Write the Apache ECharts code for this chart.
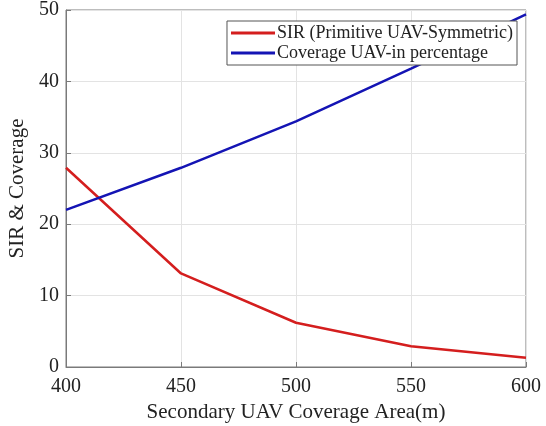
<!DOCTYPE html>
<html>
<head>
<meta charset="utf-8">
<script src="https://cdn.jsdelivr.net/npm/echarts@6/dist/echarts.min.js"></script>
<style>
  html, body { margin: 0; padding: 0; background: #fff; }
  #chart { width: 546px; height: 426px; }
</style>
</head>
<body>
<div id="chart"></div>
<script>
// Secondary UAV coverage area (m)
const areas = [400, 450, 500, 550, 600];
// SIR for the primitive UAV, symmetric case
const sirValues = [27.9, 13.1, 6.2, 2.9, 1.3];
// UAV coverage in percent
const coverageValues = [22, 27.9, 34.4, 41.8, 49.4];
const seriesNames = ['SIR (Primitive UAV-Symmetric)', 'Coverage UAV-in percentage'];

const font = '"Liberation Serif", "Times New Roman", serif';
const pairs = (xs, ys) => xs.map((x, i) => [x, ys[i]]);

const chart = echarts.init(document.getElementById('chart'));
chart.setOption({
  animation: false,
  backgroundColor: '#fff',
  grid: {
    left: 66, right: 20, top: 10, bottom: 59,
    outerBoundsMode: 'none',
    show: true, borderColor: '#7a7a7a', borderWidth: 1
  },
  legend: {
    right: 29, top: 21,
    orient: 'vertical',
    itemGap: 2,
    itemWidth: 44, itemHeight: 3,
    icon: 'rect',
    borderColor: '#555', borderWidth: 1,
    backgroundColor: '#fff',
    padding: [3, 4, 3, 4],
    textStyle: { fontFamily: font, fontSize: 18, color: '#222', padding: [0, 0, 0, -3] },
    data: seriesNames
  },
  xAxis: {
    type: 'value', min: 400, max: 600, interval: 50,
    name: 'Secondary UAV Coverage Area(m)', nameLocation: 'middle', nameGap: 30,
    nameTextStyle: { fontFamily: font, fontSize: 21, color: '#222' },
    axisLine: { show: true, lineStyle: { color: '#7a7a7a' } },
    axisTick: { show: true, inside: true, length: 5, lineStyle: { color: '#7a7a7a' } },
    axisLabel: { fontFamily: font, fontSize: 20, color: '#222', margin: 10 },
    splitLine: { show: true, lineStyle: { color: '#e3e3e3' } }
  },
  yAxis: {
    type: 'value', min: 0, max: 50, interval: 10,
    name: 'SIR & Coverage', nameLocation: 'middle', nameGap: 29,
    nameTextStyle: { fontFamily: font, fontSize: 21, color: '#222' },
    axisLine: { show: true, lineStyle: { color: '#7a7a7a' } },
    axisTick: { show: true, inside: true, length: 5, lineStyle: { color: '#7a7a7a' } },
    axisLabel: { fontFamily: font, fontSize: 20, color: '#222', margin: 7 },
    splitLine: { show: true, lineStyle: { color: '#e3e3e3' } }
  },
  series: [
    {
      name: seriesNames[0], type: 'line', data: pairs(areas, sirValues),
      showSymbol: false, color: '#d41e1e',
      lineStyle: { width: 2.5, color: '#d41e1e' }
    },
    {
      name: seriesNames[1], type: 'line', data: pairs(areas, coverageValues),
      showSymbol: false, color: '#1414b4',
      lineStyle: { width: 2.5, color: '#1414b4' }
    }
  ]
});
</script>
</body>
</html>
